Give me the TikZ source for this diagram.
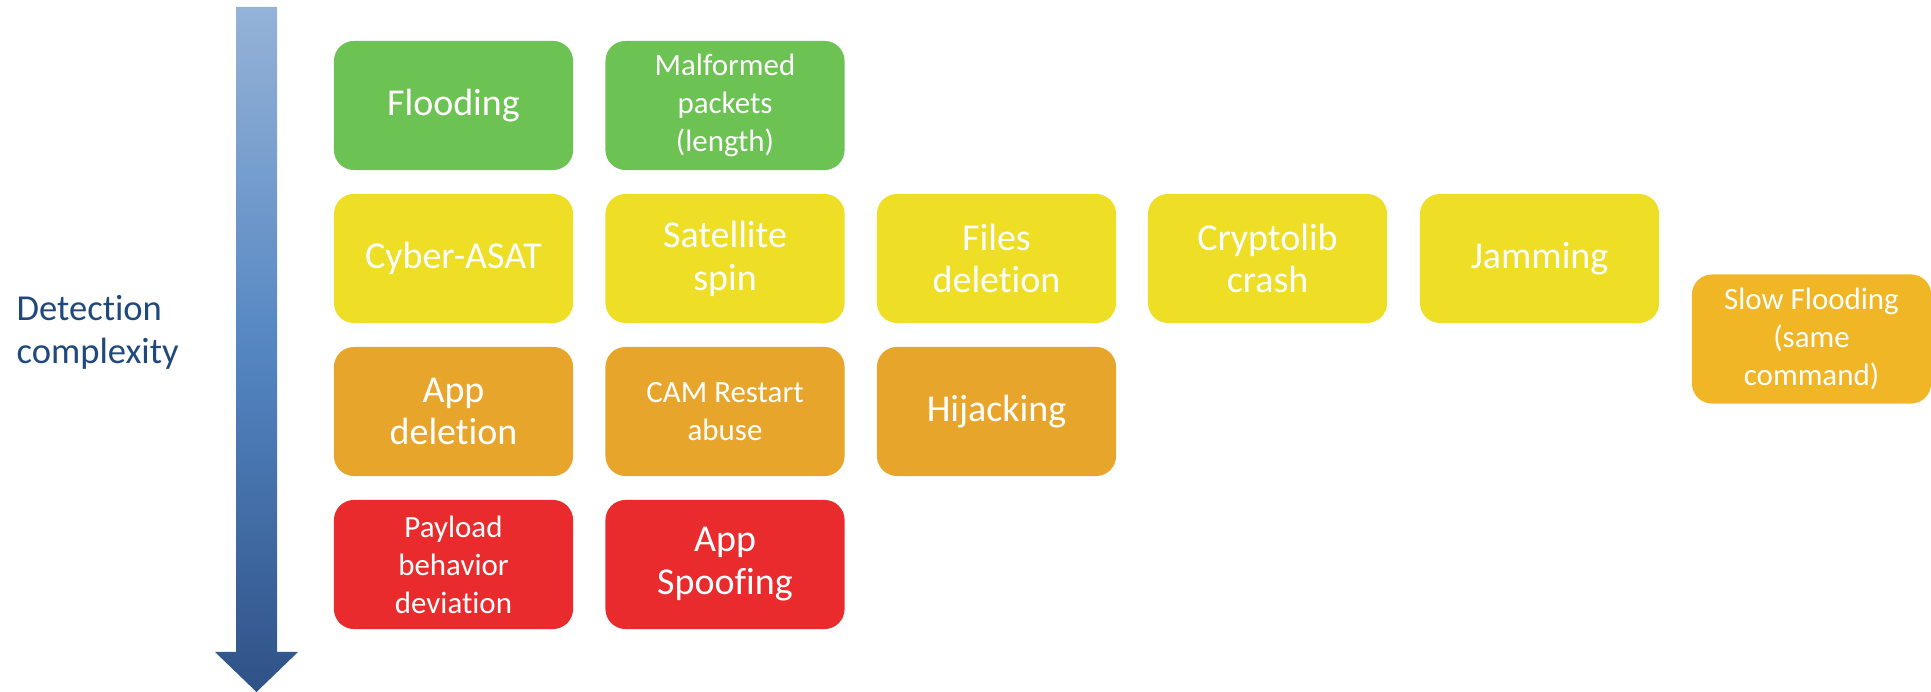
\documentclass[tikz,border=0pt]{standalone}
\usepackage{fontspec}
\setmainfont{Carlito}[Ligatures=NoCommon]
\definecolor{lowgreen}{RGB}{108,194,82}
\definecolor{midyellow}{RGB}{238,222,38}
\definecolor{highorange}{RGB}{232,165,44}
\definecolor{sloworange}{RGB}{240,182,38}
\definecolor{topred}{RGB}{233,43,46}
\definecolor{arrowlight}{RGB}{149,179,215}
\definecolor{arrowmid}{RGB}{84,134,194}
\definecolor{arrowdark}{RGB}{47,82,135}
\definecolor{labelblue}{RGB}{31,73,125}
\tikzset{
  attack/.style={rounded corners=0.2cm, minimum width=2.39cm, minimum height=1.29cm,
    inner sep=0pt, text=white, align=center, font=\fontsize{10.8}{12.2}\selectfont},
  small/.style={font=\fontsize{8.8}{10.8}\selectfont}
}

\begin{document}
\begin{tikzpicture}[x=0.01cm, y=-0.01cm]
\useasboundingbox (0,0) rectangle (1931,692);
\shade[top color=arrowlight, bottom color=arrowdark, middle color=arrowmid]
  (236,7) -- (277,7) -- (277,652) -- (298,652) -- (256.5,692) -- (215,652) -- (236,652) -- cycle;
\node [anchor=west, align=left, inner sep=0pt, text=labelblue, font=\fontsize{10.4}{12.2}\selectfont]
  (axis) at (16,332) {Detection\\complexity};
\node [attack, fill=lowgreen] (flood) at (453.5,105.5) {Flooding};
\node [attack, small, fill=lowgreen] (malformed) at (725,105.5) {Malformed\\packets\\(length)};
\node [attack, fill=midyellow] (asat) at (453.5,258.5) {Cyber-ASAT};
\node [attack, fill=midyellow] (spin) at (725,258.5) {Satellite\\spin};
\node [attack, fill=midyellow] (files) at (996.5,258.5) {Files\\deletion};
\node [attack, fill=midyellow] (crypto) at (1267.5,258.5) {Cryptolib\\crash};
\node [attack, fill=midyellow] (jam) at (1539.5,258.5) {Jamming};
\node [attack, small, fill=sloworange] (slow) at (1811.5,339) {Slow Flooding\\(same\\command)};
\node [attack, fill=highorange] (appdel) at (453.5,411.5) {App\\deletion};
\node [attack, small, fill=highorange] (cam) at (725,411.5) {CAM Restart\\abuse};
\node [attack, fill=highorange] (hijack) at (996.5,411.5) {Hijacking};
\node [attack, small, fill=topred] (payload) at (453.5,564.5) {Payload\\behavior\\deviation};
\node [attack, fill=topred] (spoof) at (725,564.5) {App\\Spoofing};
\end{tikzpicture}
\end{document}
